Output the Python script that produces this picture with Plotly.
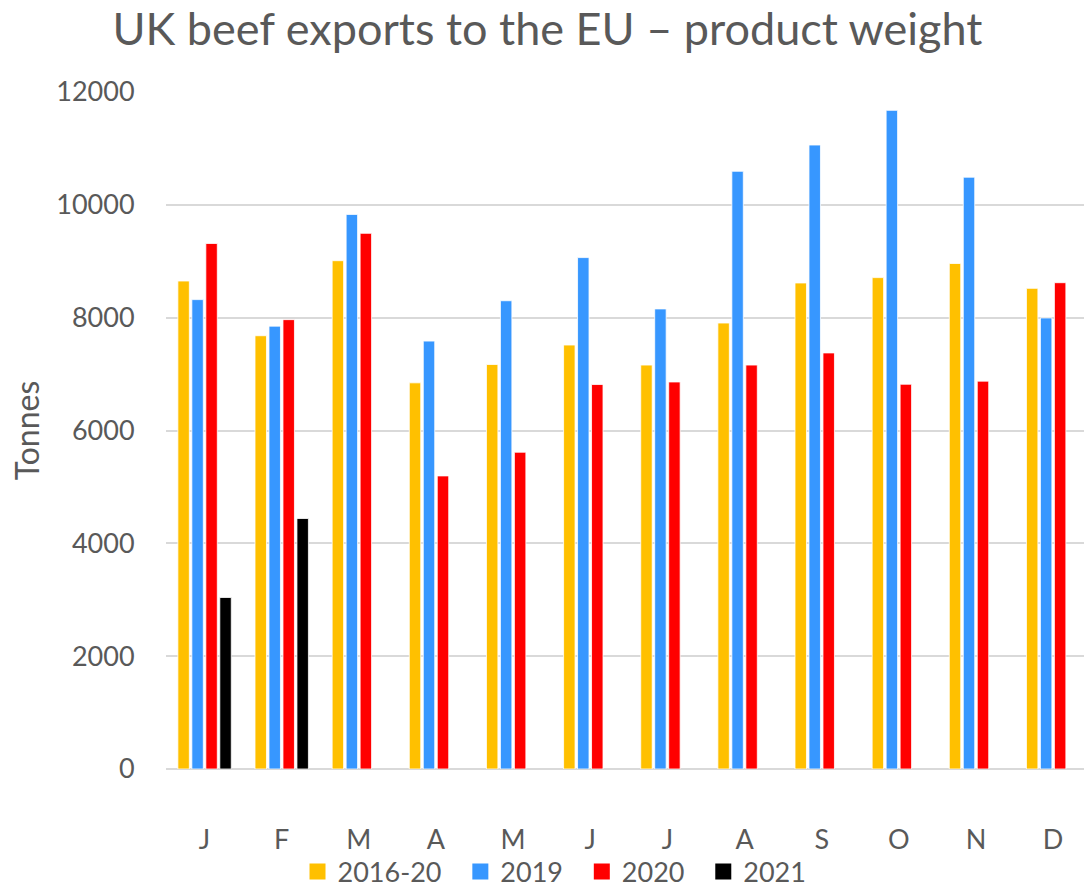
import plotly.graph_objects as go

# Monthly UK beef exports to the EU, product weight (tonnes)
months = ["J", "F", "M", "A", "M", "J", "J", "A", "S", "O", "N", "D"]
avg_2016_20 = [8650, 7680, 9010, 6845, 7170, 7515, 7160, 7905, 8615, 8710, 8960, 8520]
y2019 = [8320, 7850, 9830, 7585, 8300, 9065, 8155, 10595, 11060, 11675, 10490, 7995]
y2020 = [9315, 7965, 9495, 5195, 5615, 6815, 6860, 7160, 7375, 6820, 6875, 8620]
y2021 = [3040, 4440]

series_names = ["2016-20", "2019", "2020", "2021"]
series_colors = ["#FFC000", "#3797FF", "#FF0000", "#000000"]
series_values = [avg_2016_20, y2019, y2020, y2021]

x_pos = list(range(len(months)))
grey = "#595959"
font_family = "Lato, 'Open Sans', sans-serif"
nbsp = "\u00a0"

fig = go.Figure()
for name, color, vals in zip(series_names, series_colors, series_values):
    fig.add_trace(go.Bar(
        x=x_pos[:len(vals)],
        y=vals,
        name=name,
        showlegend=False,
        marker=dict(color=color, line=dict(color="white", width=0.8)),
    ))

# Legend entries drawn as larger square swatches
for name, color in zip(series_names, series_colors):
    fig.add_trace(go.Scatter(
        x=[None], y=[None], mode="markers",
        name=name + nbsp * 2,
        marker=dict(symbol="square", size=17, color=color),
        hoverinfo="skip",
    ))

fig.update_layout(
    width=1084,
    height=887,
    barmode="group",
    bargap=0.275,
    bargroupgap=0.18,
    plot_bgcolor="white",
    paper_bgcolor="white",
    margin=dict(l=166, r=0, t=92, b=117.5, autoexpand=False),
    title=dict(
        text="UK beef exports to the EU \u2013 product weight",
        x=0.505, xanchor="center", xref="container",
        y=0.967, yanchor="middle", yref="container",
        font=dict(family=font_family, size=45, color=grey),
    ),
    xaxis=dict(
        tickmode="array", tickvals=x_pos, ticktext=months,
        range=[-0.5, 11.4], automargin=False,
        showgrid=False, showline=False, zeroline=False,
        ticks="outside", ticklen=47, tickcolor="rgba(0,0,0,0)",
        tickfont=dict(family=font_family, size=27, color=grey),
    ),
    yaxis=dict(
        range=[0, 12000], dtick=2000, tickformat="d", automargin=False,
        showgrid=True, gridcolor="#D9D9D9", gridwidth=1.5,
        zeroline=True, zerolinecolor="#D9D9D9", zerolinewidth=1.5,
        showline=False, ticks="outside", ticklen=25, tickcolor="rgba(0,0,0,0)",
        tickfont=dict(family=font_family, size=27, color=grey),
        title=dict(text="Tonnes", standoff=7,
                   font=dict(family=font_family, size=32, color=grey)),
    ),
    legend=dict(
        orientation="h",
        x=0.518, xanchor="center", xref="container",
        y=0.017, yanchor="middle", yref="container",
        bgcolor="rgba(0,0,0,0)",
        font=dict(family=font_family, size=27, color=grey),
        itemwidth=30,
        traceorder="normal",
    ),
)

fig.write_html("out.html")
